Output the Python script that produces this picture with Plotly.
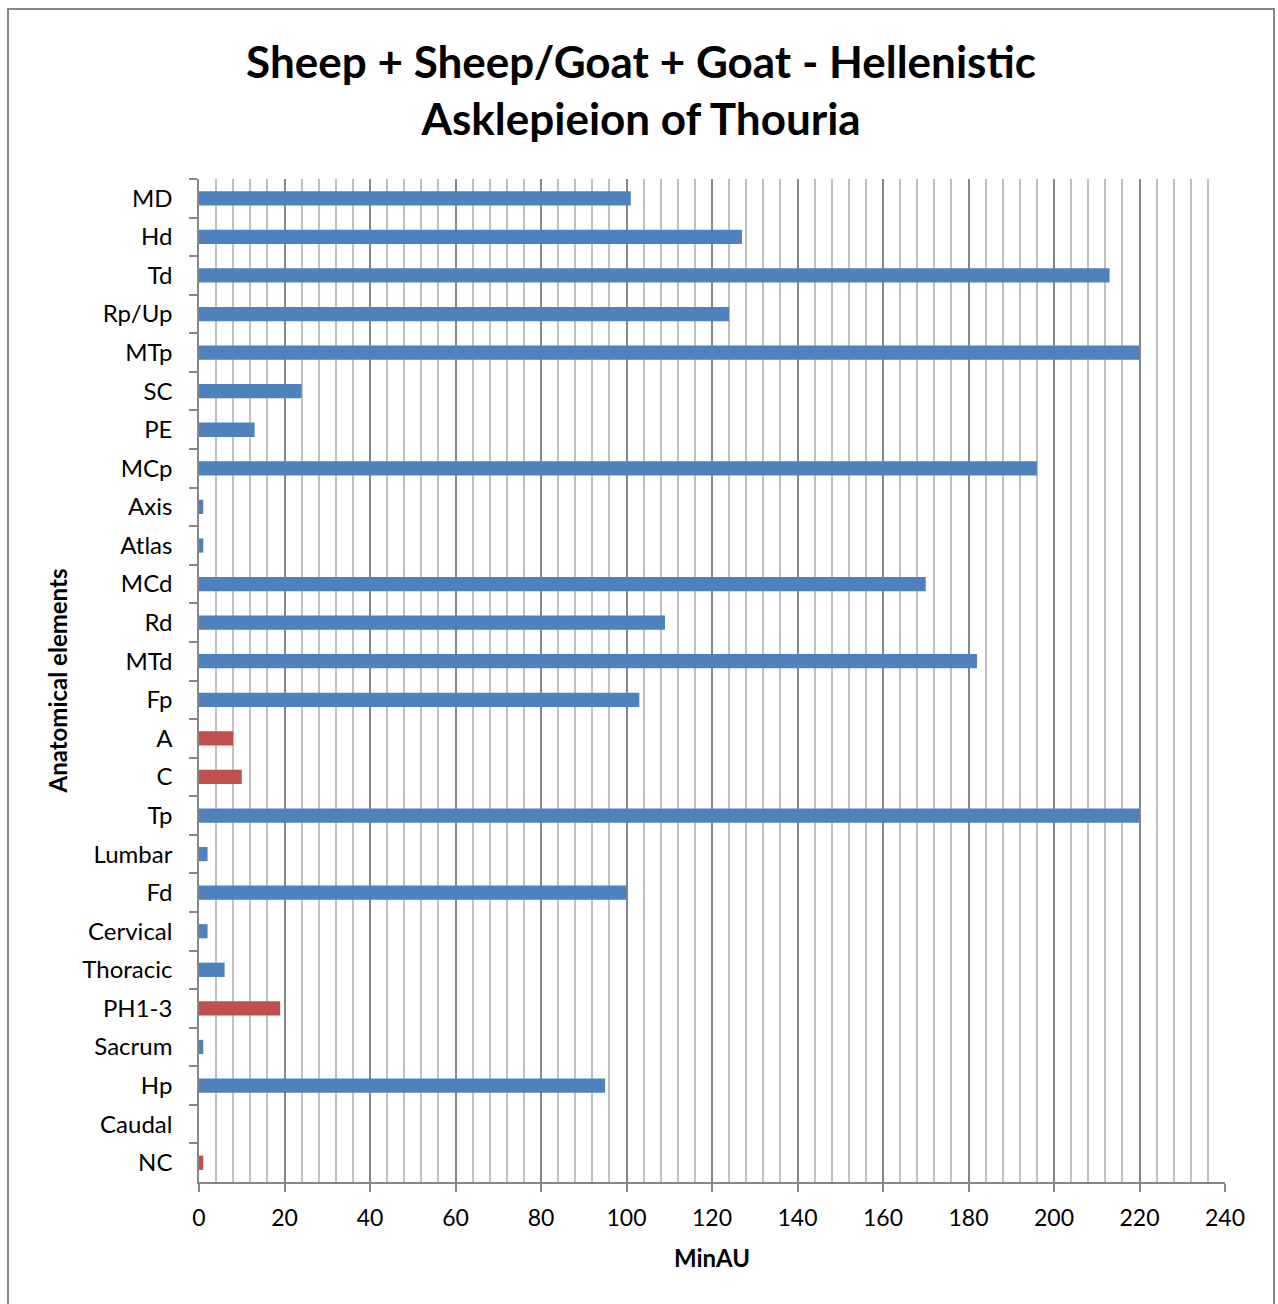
import plotly.graph_objects as go

# Anatomical elements (top to bottom) and their MinAU counts
elements = ["MD", "Hd", "Td", "Rp/Up", "MTp", "SC", "PE", "MCp", "Axis", "Atlas",
            "MCd", "Rd", "MTd", "Fp", "A", "C", "Tp", "Lumbar", "Fd", "Cervical",
            "Thoracic", "PH1-3", "Sacrum", "Hp", "Caudal", "NC"]
minau = [101, 127, 213, 124, 220, 24, 13, 196, 1, 1,
         170, 109, 182, 103, 8, 10, 220, 2, 100, 2,
         6, 19, 1, 95, 0, 1]
# elements drawn in the secondary (red) colour
highlighted = ["A", "C", "PH1-3", "NC"]

BLUE = "#4F81BD"
RED = "#C0504D"
colors = [RED if e in highlighted else BLUE for e in elements]

FONT = "Lato, 'Open Sans', sans-serif"

fig = go.Figure()
fig.add_trace(go.Bar(
    x=minau,
    y=elements,
    orientation="h",
    width=0.37,
    marker=dict(color=colors, line=dict(width=0)),
    showlegend=False,
))

fig.update_layout(
    width=1278,
    height=1304,
    margin=dict(l=199, r=53, t=179, b=122),
    paper_bgcolor="white",
    plot_bgcolor="white",
    font=dict(family=FONT, color="black"),
    title=dict(
        text="<b>Sheep + Sheep/Goat + Goat - Hellenistic<br>Asklepieion of Thouria</b>",
        x=0.5016, xanchor="center",
        y=1 - 78 / 1304, yanchor="middle",
        font=dict(size=44, family=FONT, color="black"),
    ),
    xaxis=dict(
        range=[0, 240],
        dtick=20,
        tick0=0,
        showgrid=True,
        gridcolor="#878787",
        gridwidth=1.5,
        minor=dict(dtick=4, tick0=0, showgrid=True, gridcolor="#C0C0C0",
                   gridwidth=1.5, ticks=""),
        ticks="outside",
        ticklen=8,
        tickwidth=1.5,
        tickcolor="#878787",
        showline=True,
        linecolor="#878787",
        linewidth=1.5,
        zeroline=False,
        tickfont=dict(size=23, family=FONT),
        ticklabelstandoff=7,
        title=dict(text="<b>MinAU</b>", font=dict(size=24, family=FONT), standoff=20),
        fixedrange=True,
    ),
    yaxis=dict(
        type="category",
        autorange="reversed",
        tickson="boundaries",
        ticks="outside",
        ticklen=8,
        tickwidth=1.5,
        tickcolor="#878787",
        showgrid=False,
        showline=True,
        linecolor="#878787",
        linewidth=1.5,
        tickfont=dict(size=24, family=FONT),
        ticklabelstandoff=20,
        title=dict(text="<b>Anatomical elements</b>", font=dict(size=24, family=FONT), standoff=8),
        fixedrange=True,
    ),
    shapes=[dict(
        type="rect", xref="paper", yref="paper",
        x0=(8 - 199) / 1026, x1=(1274 - 199) / 1026,
        y0=(1182 - 1320) / 1003, y1=(1182 - 9) / 1003,
        line=dict(color="#878787", width=2),
        fillcolor="rgba(0,0,0,0)",
        layer="below",
    )],
)

fig.write_html("out.html")
